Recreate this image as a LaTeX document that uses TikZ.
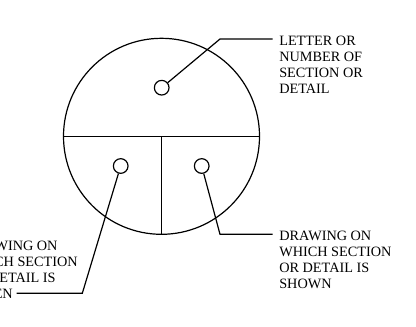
\documentclass[tikz,border=0pt]{standalone}
\usepackage{fontspec}
\setmainfont{Liberation Serif}
\usetikzlibrary{positioning}
\tikzset{
  x=0.75pt, y=-0.75pt, % one unit is one pixel of the sheet
  every node/.style={font=\fontsize{10.7}{12.1}\selectfont},
}

\begin{document}
\begin{tikzpicture}[line width=0.9pt,
    main/.style = {draw, circle, inner sep=0pt},
    dot/.style = {main, minimum size=11pt},
    note/.style = {align=left, inner sep=0pt, anchor=north west}]
  \useasboundingbox (0,0) rectangle (416,326);
  \clip (0,0) rectangle (416,326);

  % the detail bubble
  \node[main, minimum size=147pt] (bubble) at (161.5,136.3) {};
  \draw (bubble.west) -- (bubble.east);
  \draw (bubble.center) -- (bubble.south);

  \node[dot] (letter) at (161.7,87.7) {};
  \node[dot] (taken) at (120.7,166) {};
  \node[dot] (shown) at (201.7,166) {};

  % the notes
  \node[note] (lettertext) at (278.7,35.3) {LETTER OR\\NUMBER OF\\SECTION OR\\DETAIL};
  \node[note] (showntext) at (278.7,230.3) {DRAWING ON\\WHICH SECTION\\OR DETAIL IS\\SHOWN};
  \node[note] (takentext) at (-35,240.3) {DRAWING ON\\WHICH SECTION\\OR DETAIL IS\\TAKEN};

  \coordinate (k1) at (220,39);
  \coordinate (e1) at (272.7,39);
  \coordinate (k2) at (220,234.3);
  \coordinate (e2) at (272.7,234.3);
  \coordinate (k3) at (82.3,293.3);
  \coordinate (e3) at (16.7,293.3);

  \draw (letter) -- (k1) -- (e1);
  \draw (shown) -- (k2) -- (e2);
  \draw (taken) -- (k3) -- (e3);
\end{tikzpicture}
\end{document}
